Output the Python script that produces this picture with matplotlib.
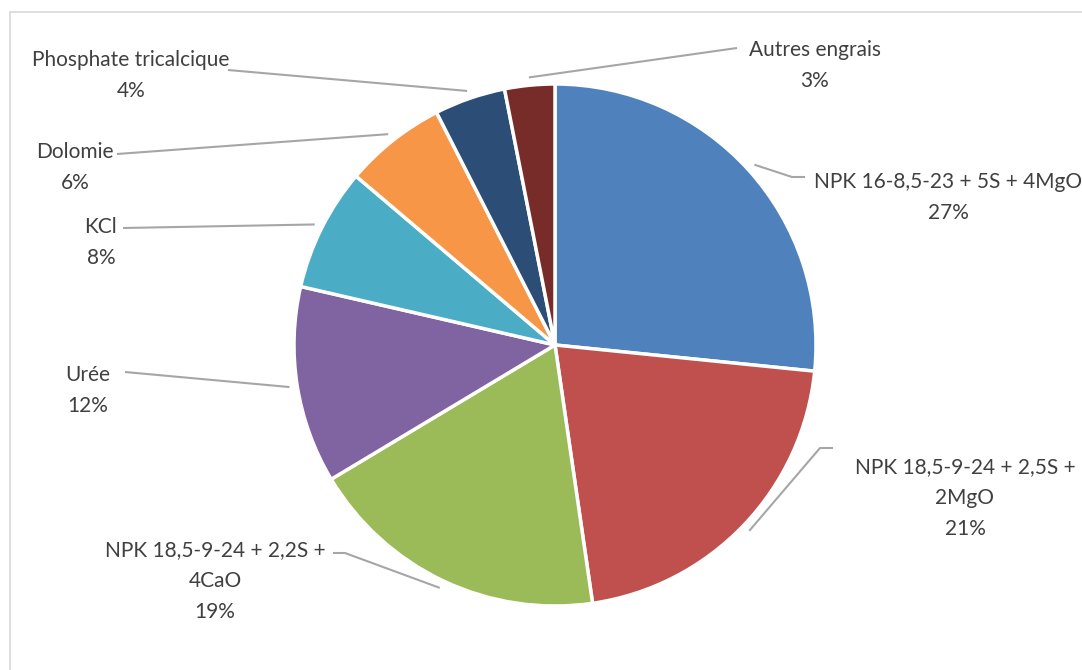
import numpy as np
import matplotlib.pyplot as plt
from matplotlib.patches import Rectangle

labels = ["NPK 16-8,5-23 + 5S + 4MgO", "NPK 18,5-9-24 + 2,5S +\n2MgO",
          "NPK 18,5-9-24 + 2,2S +\n4CaO", "Urée", "KCl", "Dolomie",
          "Phosphate tricalcique", "Autres engrais"]
values = [26.6, 21.1, 18.7, 12.2, 7.6, 6.3, 4.4, 3.1]
shown_pct = [27, 21, 19, 12, 8, 6, 4, 3]
colors = ["#4F81BD", "#C0504D", "#9BBB59", "#8064A2",
          "#4BACC6", "#F79646", "#2C4D75", "#772C2A"]

W, H = 1082, 670
cx, cy, r = 555, H - 345, 261

# centre de la 1re ligne des étiquettes (pixels, y depuis le haut) et coudes des lignes de rappel
text_pos = [(948, 177), (965, 462), (215, 545), (88, 370),
            (101, 222), (75, 147), (131, 55), (815, 45)]
elbows = [[(792, 177), (805, 177)], [(820, 448), (833, 448)],
          [(345, 553), (333, 553)], [(125, 372)], [(123, 228)],
          [(117, 154)], [(228, 70)], [(737, 48)]]

fig = plt.figure(figsize=(W / 100, H / 100), dpi=100)
ax = fig.add_axes([0, 0, 1, 1])

# cadre du graphique
ax.add_patch(Rectangle((10, -20), W + 40, H - 12 + 20, fill=False,
                       edgecolor="#D9D9D9", linewidth=1.2))

wedges, _ = ax.pie(values, colors=colors, startangle=90, counterclock=False,
                   center=(cx, cy), radius=r, frame=True,
                   wedgeprops=dict(edgecolor="white", linewidth=2.5))
ax.set_xlim(0, W)
ax.set_ylim(0, H)
ax.set_aspect("equal")
ax.axis("off")

for w, lab, pct, (tx, ty), elb in zip(wedges, labels, shown_pct, text_pos, elbows):
    ang = np.deg2rad((w.theta1 + w.theta2) / 2)
    x0 = cx + r * 1.03 * np.cos(ang)
    y0 = cy + r * 1.03 * np.sin(ang)
    xs = [x0] + [p[0] for p in elb]
    ys = [y0] + [H - p[1] for p in elb]
    ax.plot(xs, ys, color="#A6A6A6", linewidth=1.5, solid_capstyle="butt")
    ax.text(tx, H - ty + 5, f"{lab}\n{pct}%", ha="center", va="top",
            fontsize=15, family="Lato", color="#404040", linespacing=1.68)

fig.savefig("out.png", dpi=100)
